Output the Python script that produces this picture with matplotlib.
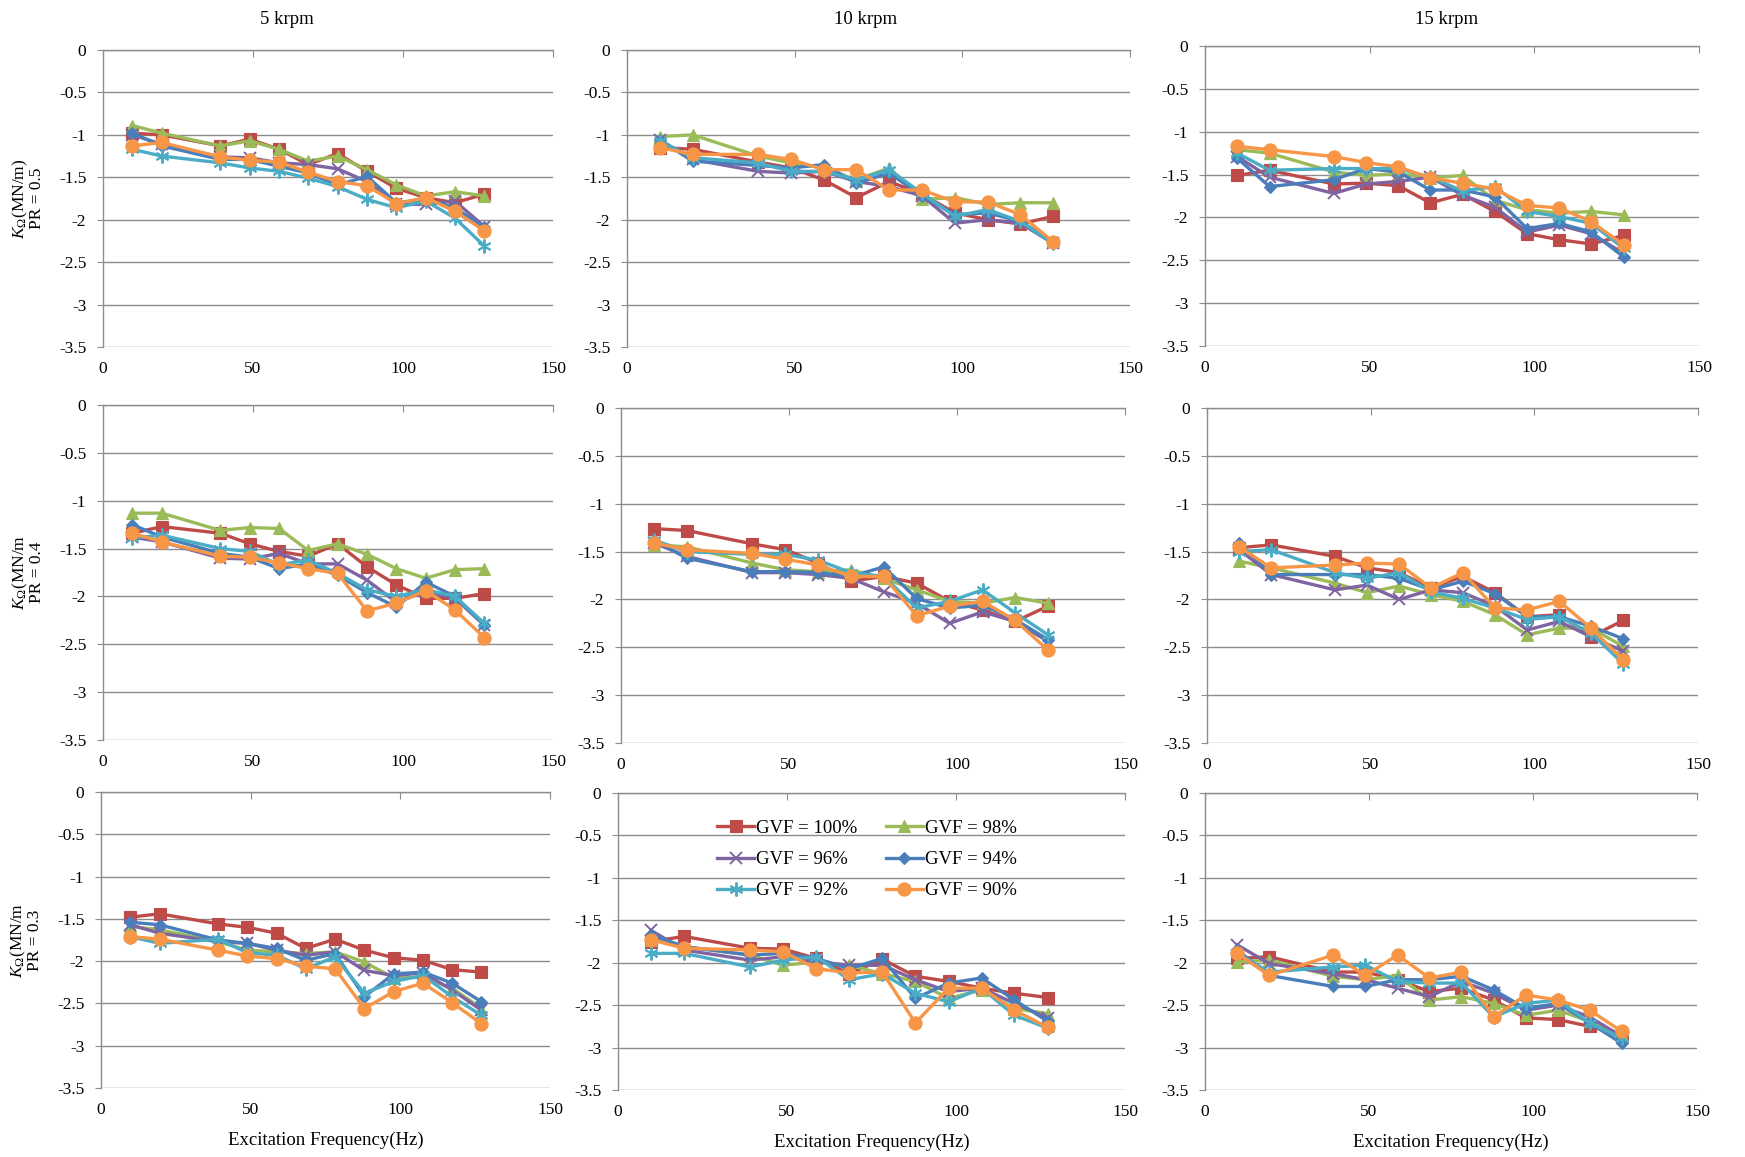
import numpy as np
import matplotlib
matplotlib.use("Agg")
import matplotlib.pyplot as plt

plt.rcParams['axes.unicode_minus'] = False
plt.rcParams['font.family'] = ['Liberation Serif', 'DejaVu Serif']
plt.rcParams['mathtext.fontset'] = 'custom'
plt.rcParams['mathtext.it'] = 'Liberation Serif:italic'
plt.rcParams['mathtext.rm'] = 'Liberation Serif'

# excitation frequencies (Hz)
freq = [9.8, 19.6, 39.1, 48.9, 58.7, 68.4, 78.2, 88.0, 97.8, 107.6, 117.3, 127.1]

gvf_labels = ['GVF = 100%', 'GVF = 98%', 'GVF = 96%', 'GVF = 94%', 'GVF = 92%', 'GVF = 90%']
speeds = ['5 krpm', '10 krpm', '15 krpm']
pr_labels = ['PR = 0.5', 'PR = 0.4', 'PR = 0.3']
ytick_vals = [0, -0.5, -1, -1.5, -2, -2.5, -3, -3.5]
ytick_text = ['0', '-0.5', '-1', '-1.5', '-2', '-2.5', '-3', '-3.5']
xtick_vals = [0, 50, 100, 150]

# rows: GVF 100, 98, 96, 94, 92, 90
pr05_5k = [
    [-0.98, -1.00, -1.13, -1.05, -1.17, -1.35, -1.22, -1.43, -1.63, -1.74, -1.80, -1.70],
    [-0.89, -0.98, -1.13, -1.07, -1.17, -1.31, -1.25, -1.41, -1.59, -1.72, -1.67, -1.72],
    [-1.00, -1.11, -1.26, -1.27, -1.33, -1.35, -1.40, -1.55, -1.82, -1.82, -1.78, -2.08],
    [-0.98, -1.13, -1.29, -1.29, -1.37, -1.45, -1.59, -1.49, -1.80, -1.76, -1.86, -2.09],
    [-1.17, -1.25, -1.33, -1.39, -1.43, -1.51, -1.61, -1.76, -1.86, -1.78, -1.98, -2.31],
    [-1.13, -1.09, -1.26, -1.30, -1.32, -1.44, -1.55, -1.60, -1.81, -1.74, -1.90, -2.13],
]
pr05_10k = [
    [-1.15, -1.17, -1.32, -1.39, -1.53, -1.74, -1.55, -1.70, -1.92, -2.00, -2.05, -1.96],
    [-1.02, -1.00, -1.25, -1.33, -1.39, -1.53, -1.39, -1.76, -1.74, -1.82, -1.80, -1.80],
    [-1.06, -1.29, -1.43, -1.45, -1.43, -1.55, -1.61, -1.72, -2.04, -2.00, -2.04, -2.28],
    [-1.06, -1.31, -1.36, -1.39, -1.35, -1.57, -1.45, -1.72, -1.94, -1.92, -2.02, -2.26],
    [-1.07, -1.27, -1.33, -1.43, -1.43, -1.53, -1.41, -1.69, -1.96, -1.88, -2.02, -2.28],
    [-1.15, -1.23, -1.23, -1.29, -1.41, -1.41, -1.65, -1.65, -1.79, -1.79, -1.94, -2.26],
]
pr05_15k = [
    [-1.51, -1.45, -1.61, -1.60, -1.63, -1.83, -1.73, -1.93, -2.19, -2.26, -2.31, -2.21],
    [-1.21, -1.25, -1.47, -1.51, -1.49, -1.54, -1.51, -1.80, -1.91, -1.95, -1.93, -1.97],
    [-1.29, -1.53, -1.72, -1.61, -1.58, -1.53, -1.74, -1.88, -2.17, -2.09, -2.19, -2.42],
    [-1.31, -1.64, -1.56, -1.43, -1.47, -1.68, -1.68, -1.76, -2.13, -2.07, -2.17, -2.46],
    [-1.25, -1.45, -1.43, -1.43, -1.43, -1.53, -1.69, -1.64, -1.93, -1.99, -2.07, -2.36],
    [-1.17, -1.21, -1.29, -1.36, -1.41, -1.54, -1.60, -1.67, -1.86, -1.89, -2.05, -2.32],
]
pr04_5k = [
    [-1.34, -1.27, -1.34, -1.45, -1.53, -1.58, -1.45, -1.69, -1.88, -2.02, -2.02, -1.97],
    [-1.13, -1.13, -1.31, -1.28, -1.29, -1.52, -1.45, -1.56, -1.71, -1.81, -1.72, -1.71],
    [-1.38, -1.43, -1.60, -1.61, -1.55, -1.66, -1.66, -1.83, -2.06, -1.95, -2.02, -2.30],
    [-1.25, -1.38, -1.55, -1.59, -1.71, -1.66, -1.78, -1.96, -2.11, -1.85, -2.00, -2.30],
    [-1.39, -1.36, -1.50, -1.53, -1.67, -1.62, -1.76, -1.93, -2.00, -1.93, -2.00, -2.28],
    [-1.34, -1.43, -1.58, -1.59, -1.65, -1.71, -1.76, -2.15, -2.07, -1.94, -2.14, -2.43],
]
pr04_10k = [
    [-1.26, -1.28, -1.42, -1.48, -1.62, -1.81, -1.76, -1.83, -2.02, -2.11, -2.23, -2.07],
    [-1.43, -1.45, -1.62, -1.69, -1.71, -1.69, -1.78, -1.90, -2.02, -2.04, -1.98, -2.04],
    [-1.41, -1.55, -1.72, -1.72, -1.74, -1.78, -1.92, -2.04, -2.25, -2.13, -2.23, -2.44],
    [-1.38, -1.57, -1.71, -1.71, -1.72, -1.76, -1.66, -1.99, -2.09, -2.06, -2.21, -2.42],
    [-1.38, -1.50, -1.53, -1.53, -1.59, -1.72, -1.76, -2.09, -2.02, -1.90, -2.14, -2.37],
    [-1.41, -1.48, -1.52, -1.58, -1.64, -1.76, -1.76, -2.17, -2.07, -2.02, -2.22, -2.53],
]
pr04_15k = [
    [-1.46, -1.43, -1.55, -1.67, -1.72, -1.88, -1.76, -1.93, -2.18, -2.16, -2.39, -2.22],
    [-1.60, -1.67, -1.83, -1.93, -1.86, -1.95, -2.02, -2.16, -2.37, -2.30, -2.30, -2.49],
    [-1.48, -1.74, -1.90, -1.85, -2.00, -1.90, -1.93, -2.07, -2.32, -2.23, -2.39, -2.54],
    [-1.41, -1.74, -1.74, -1.74, -1.78, -1.90, -1.81, -1.94, -2.18, -2.18, -2.28, -2.41],
    [-1.50, -1.48, -1.72, -1.78, -1.72, -1.92, -1.99, -2.09, -2.21, -2.18, -2.35, -2.67],
    [-1.45, -1.67, -1.64, -1.62, -1.63, -1.88, -1.72, -2.09, -2.11, -2.02, -2.30, -2.63],
]
pr03_5k = [
    [-1.48, -1.44, -1.56, -1.60, -1.67, -1.85, -1.74, -1.87, -1.96, -1.99, -2.10, -2.13],
    [-1.59, -1.63, -1.77, -1.87, -1.89, -1.91, -1.89, -2.01, -2.20, -2.19, -2.32, -2.56],
    [-1.57, -1.67, -1.77, -1.79, -1.87, -1.93, -1.89, -2.11, -2.17, -2.14, -2.34, -2.58],
    [-1.54, -1.57, -1.75, -1.79, -1.85, -1.99, -1.91, -2.42, -2.15, -2.13, -2.26, -2.48],
    [-1.71, -1.79, -1.74, -1.90, -1.93, -2.09, -1.95, -2.38, -2.24, -2.17, -2.42, -2.64],
    [-1.71, -1.74, -1.87, -1.94, -1.97, -2.06, -2.09, -2.56, -2.36, -2.26, -2.49, -2.74],
]
pr03_10k = [
    [-1.75, -1.69, -1.83, -1.84, -1.95, -2.13, -1.96, -2.16, -2.22, -2.30, -2.36, -2.41],
    [-1.73, -1.81, -1.91, -2.03, -1.99, -2.03, -2.13, -2.22, -2.42, -2.32, -2.54, -2.60],
    [-1.62, -1.85, -1.97, -1.93, -1.99, -2.03, -2.03, -2.20, -2.34, -2.30, -2.48, -2.65],
    [-1.67, -1.81, -1.91, -1.89, -1.95, -2.07, -1.95, -2.42, -2.24, -2.18, -2.44, -2.69],
    [-1.89, -1.89, -2.05, -1.97, -1.93, -2.20, -2.13, -2.36, -2.46, -2.30, -2.62, -2.77],
    [-1.73, -1.83, -1.85, -1.87, -2.07, -2.12, -2.11, -2.71, -2.30, -2.30, -2.56, -2.76],
]
pr03_15k = [
    [-1.95, -1.93, -2.11, -2.11, -2.20, -2.34, -2.30, -2.44, -2.65, -2.67, -2.75, -2.85],
    [-1.99, -1.97, -2.16, -2.20, -2.15, -2.44, -2.40, -2.48, -2.62, -2.56, -2.69, -2.85],
    [-1.79, -2.01, -2.13, -2.20, -2.30, -2.40, -2.22, -2.36, -2.56, -2.50, -2.64, -2.87],
    [-1.85, -2.15, -2.28, -2.28, -2.20, -2.20, -2.16, -2.32, -2.54, -2.48, -2.71, -2.95],
    [-1.89, -2.11, -2.05, -2.03, -2.22, -2.24, -2.24, -2.64, -2.48, -2.44, -2.71, -2.89],
    [-1.89, -2.15, -1.91, -2.15, -1.91, -2.18, -2.11, -2.64, -2.38, -2.44, -2.56, -2.81],
]

panels = [[pr05_5k, pr05_10k, pr05_15k],
          [pr04_5k, pr04_10k, pr04_15k],
          [pr03_5k, pr03_10k, pr03_15k]]

colors = ['#BE4B48', '#9BBB59', '#8064A2', '#4A7EBB', '#4BACC6', '#F79646']
markers = ['s', '^', 'x', 'D', (6, 2, 0), 'o']
msizes = [8.5, 8.5, 9, 6.5, 10, 9.5]

W, H = 1745, 1157
# axes boxes in pixels: left, top, right, bottom
boxes = [
    [(103, 50, 553, 347), (627, 50, 1130, 347), (1205, 46, 1699, 346)],
    [(103, 405, 553, 740), (621, 408, 1125, 743), (1207, 408, 1698, 743)],
    [(101, 792, 550, 1088), (618, 793, 1125, 1090), (1205, 793, 1697, 1090)],
]
title_x = [287, 866, 1447]

fig = plt.figure(figsize=(W / 100, H / 100), dpi=100)
grid_c = '#8C8C8C'

for r in range(3):
    for c in range(3):
        l, t, rr, b = boxes[r][c]
        ax = fig.add_axes([l / W, 1 - b / H, (rr - l) / W, (b - t) / H])
        data = panels[r][c]
        for i in range(6):
            mk = markers[i]
            ax.plot(freq, data[i], color=colors[i], lw=2.4, marker=mk, ms=msizes[i],
                    mew=1.4 if mk in ('x', (6, 2, 0)) else 0.8,
                    mec=colors[i], mfc=colors[i], label=gvf_labels[i], clip_on=False)
        ax.set_xlim(0, 150)
        ax.set_ylim(-3.5, 0)
        ax.set_yticks(ytick_vals)
        ax.set_yticklabels(ytick_text)
        ax.set_xticks(xtick_vals)
        ax.set_xticklabels([str(v) for v in xtick_vals])
        ax.grid(axis='y', color=grid_c, lw=1.0)
        ax.set_axisbelow(True)
        for s in ['right', 'bottom']:
            ax.spines[s].set_visible(False)
        for s in ['left', 'top']:
            ax.spines[s].set_color(grid_c)
            ax.spines[s].set_linewidth(1.0)
        ax.tick_params(axis='x', top=True, bottom=False, labeltop=False, labelbottom=True,
                       direction='in', length=5, color=grid_c, pad=10, labelsize=12.5)
        ax.tick_params(axis='y', direction='out', length=4, color=grid_c, pad=8, labelsize=12.5)
        if r == 0:
            fig.text(title_x[c] / W, 1 - 20 / H, speeds[c], fontsize=13.5,
                     ha='center', va='center')
        if r == 2:
            ax.set_xlabel('Excitation Frequency(Hz)', fontsize=13.5, labelpad=10)
        if c == 0:
            unit = '(MN/m)' if r == 0 else '(MN/m'
            ylab = r'$K_{\Omega}$' + unit + '\n' + pr_labels[r]
            ax.set_ylabel(ylab, fontsize=12.5, labelpad=10, linespacing=0.9)
        if r == 2 and c == 1:
            h, lb = ax.get_legend_handles_labels()
            order = [0, 2, 4, 1, 3, 5]
            ax.legend([h[k] for k in order], [lb[k] for k in order], ncol=2, frameon=False,
                      loc='upper left', bbox_to_anchor=(0.18, 0.935), fontsize=13.5,
                      handlelength=2.0, handletextpad=0.1, columnspacing=1.5,
                      labelspacing=0.75, borderaxespad=0)

fig.savefig('out.png', dpi=100, facecolor='white')
